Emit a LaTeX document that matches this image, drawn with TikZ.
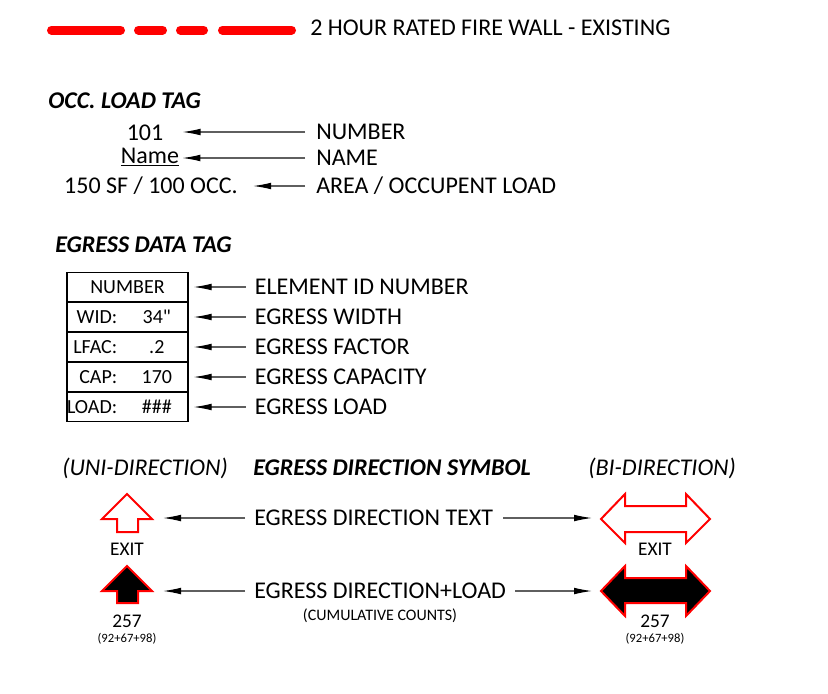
\documentclass[tikz,border=0pt]{standalone}
\usepackage{fontspec}
\setmainfont{Carlito}[Ligatures=TeXOff]
\usetikzlibrary{arrows.meta, positioning}
\definecolor{FireRed}{RGB}{255, 0, 0}
\definecolor{LeadGray}{RGB}{95, 95, 95}

\begin{document}
\begin{tikzpicture}[
        x=0.75pt, y=-0.75pt,
        lbl/.style={font=\fontsize{18}{21}\selectfont, inner sep=0pt, anchor=west},
        ttl/.style={lbl, font=\fontsize{18}{21}\selectfont\bfseries\itshape},
        ital/.style={lbl, font=\fontsize{18}{21}\selectfont\itshape},
        occtxt/.style={font=\fontsize{18}{21}\selectfont, inner sep=0pt},
        cell/.style={draw, line width=0.9pt, minimum width=90.75pt, minimum height=21.6pt, inner sep=0pt, font=\fontsize{15}{18}\selectfont},
        celltxt/.style={font=\fontsize{15}{18}\selectfont, inner sep=0pt},
        exitsym/.style={draw=FireRed, line width=1.5pt, line join=miter},
        exittxt/.style={font=\fontsize{14.5}{16}\selectfont, inner sep=0pt},
        smalltxt/.style={font=\fontsize{12}{14}\selectfont, inner sep=0pt},
        tinytxt/.style={font=\fontsize{9.5}{11}\selectfont, inner sep=0pt},
        ptr/.style={-{Latex[length=13.5pt, width=5pt, black]}, LeadGray, line width=0.8pt},
        firewall/.style={FireRed, line width=6.75pt, line cap=round,
            dash pattern=on 51.75pt off 13.5pt on 18pt off 13.5pt on 17.25pt off 14.25pt on 51.75pt off 20pt}
    ]
    \useasboundingbox (0,0) rectangle (828,693);

    % legend line
    \draw[firewall] (51.5,30) -- (291.5,30);
    \node[lbl] (fwText) at (310,28) {2 HOUR RATED FIRE WALL - EXISTING};

    % occupant load tag
    \node[ttl] (occTitle) at (48,101) {OCC. LOAD TAG};
    \node[occtxt] (num) at (145,133) {101};
    \node[occtxt, anchor=base] (name) at (150,163) {\underline{Name}};
    \node[occtxt] (area) at (151,186) {150 SF / 100 OCC.};
    \node[lbl] (lNum) at (316,132) {NUMBER};
    \node[lbl] (lName) at (316,158) {NAME};
    \node[lbl] (lArea) at (316,186) {AREA / OCCUPENT LOAD};
    \draw[ptr, shorten <=8.25pt, shorten >=14.25pt] (lNum.west) -- (lNum.west -| num.east);
    \draw[ptr, shorten <=8.25pt, shorten >=2.25pt] (lName.west) -- (lName.west -| name.east);
    \draw[ptr, shorten <=8.25pt, shorten >=11.25pt] (lArea.west) -- (lArea.west -| area.east);

    % egress data tag
    \node[ttl] (dataTitle) at (55,245) {EGRESS DATA TAG};
    \node[cell] (r1) at (127.5,287) {NUMBER};
    \foreach \key/\val [count=\n from 2, remember=\n as \prev (initially 1)] in {WID:/34\symbol{34}, LFAC:/.2, CAP:/170, LOAD:/\#\#\#} {
        \node[cell, below=0pt of r\prev] (r\n) {};
        \node[celltxt, anchor=east, xshift=-7.5pt] (k\n) at (r\n.center) {\key};
        \node[celltxt, xshift=22pt] (v\n) at (r\n.center) {\val};
    }
    \foreach \desc [count=\n] in {ELEMENT ID NUMBER, EGRESS WIDTH, EGRESS FACTOR, EGRESS CAPACITY, EGRESS LOAD} {
        \node[lbl, right=49.5pt of r\n] (d\n) {\desc};
        \draw[ptr, shorten <=6.75pt, shorten >=3.75pt] (d\n.west) -- (r\n.east);
    }

    % direction symbols
    \node[ital] (uniTitle) at (62,468) {(UNI-DIRECTION)};
    \node[ttl] (symTitle) at (253,468) {EGRESS DIRECTION SYMBOL};
    \node[ital] (biTitle) at (588,468) {(BI-DIRECTION)};

    \draw[exitsym, fill=white] (127,494) -- (152,519) -- (138,519) -- (138,532) -- (117,532) -- (117,519) -- (102,519) -- cycle;
    \draw[exitsym, fill=black] (127,566) -- (152,591) -- (138,591) -- (138,603) -- (117,603) -- (117,591) -- (102,591) -- cycle;
    \draw[exitsym, fill=white] (601,519) -- (625,494) -- (625,506) -- (686,506) -- (686,494) -- (710,519)
        -- (686,543) -- (686,532) -- (625,532) -- (625,543) -- cycle;
    \draw[exitsym, fill=black] (601,591) -- (625,566) -- (625,578) -- (686,578) -- (686,566) -- (710,591)
        -- (686,616) -- (686,603) -- (625,603) -- (625,616) -- cycle;
    \coordinate (uniOut) at (152,518);
    \coordinate (uniLoad) at (152,591);
    \coordinate (biOut) at (601,518);
    \coordinate (biLoad) at (601,591);

    \node[exittxt] (uniExit) at (127,549) {EXIT};
    \node[exittxt] (uniCount) at (127,621) {257};
    \node[tinytxt] (uniSum) at (127,639) {(92+67+98)};
    \node[exittxt] (biExit) at (655,549) {EXIT};
    \node[exittxt] (biCount) at (655,621) {257};
    \node[tinytxt] (biSum) at (655,639) {(92+67+98)};

    \node[lbl] (dirTxt) at (254,518) {EGRESS DIRECTION TEXT};
    \node[lbl] (dirLoad) at (254,591) {EGRESS DIRECTION+LOAD};
    \node[smalltxt] (cumul) at (380,616) {(CUMULATIVE COUNTS)};
    \draw[ptr, shorten <=6.75pt, shorten >=8.25pt] (dirTxt.west) -- (dirTxt.west -| uniOut);
    \draw[ptr, shorten <=7.5pt, shorten >=6.75pt] (dirTxt.east) -- (dirTxt.east -| biOut);
    \draw[ptr, shorten <=6.75pt, shorten >=8.25pt] (dirLoad.west) -- (dirLoad.west -| uniLoad);
    \draw[ptr, shorten <=6.75pt, shorten >=6.75pt] (dirLoad.east) -- (dirLoad.east -| biLoad);
\end{tikzpicture}
\end{document}
